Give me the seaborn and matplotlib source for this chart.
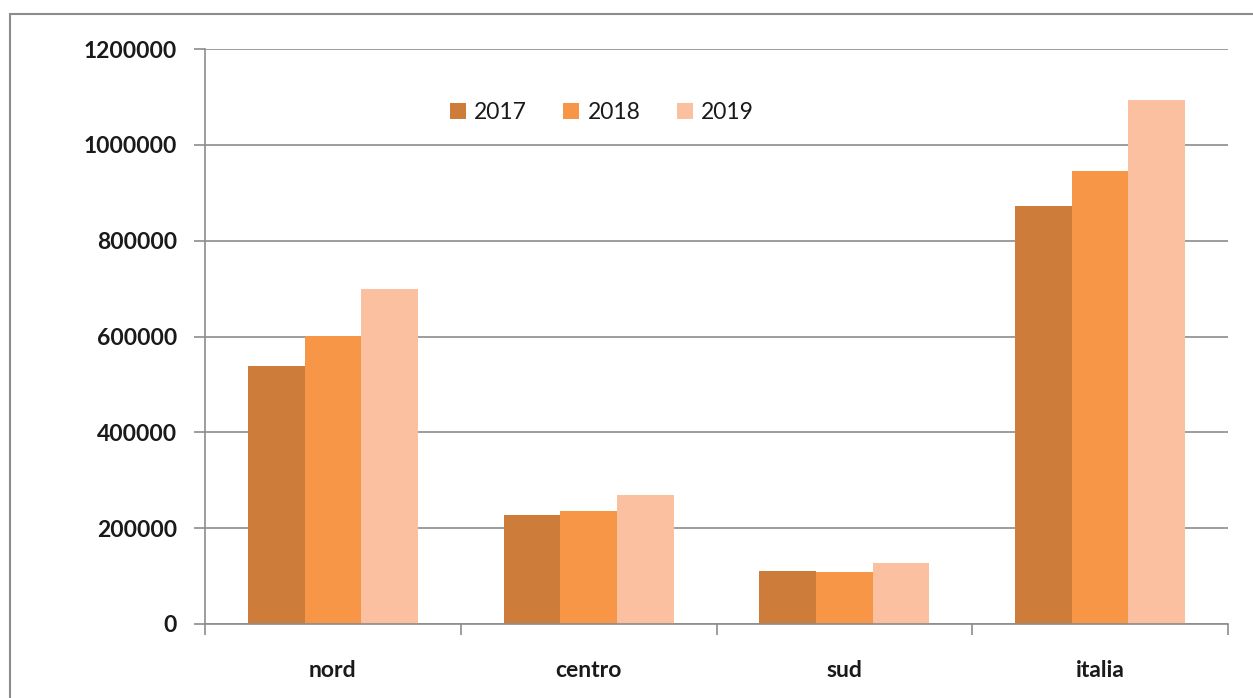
import pandas as pd
import matplotlib
matplotlib.use('Agg')
import matplotlib.pyplot as plt
import seaborn as sns
from matplotlib.patches import Rectangle
from matplotlib.ticker import StrMethodFormatter

# values
regions = ['nord', 'centro', 'sud', 'italia']
years = ['2017', '2018', '2019']
v2017 = [538000, 227000, 111000, 873000]
v2018 = [601000, 236000, 108000, 946000]
v2019 = [699000, 269000, 127000, 1094000]
colors = ['#CD7D39', '#F79646', '#FAC0A0']

df = pd.DataFrame({
    'region': regions * 3,
    'year': [y for y in years for _ in regions],
    'value': v2017 + v2018 + v2019,
})

sns.set_style('white')
plt.rcParams['font.family'] = ['Lato', 'DejaVu Sans']

fig = plt.figure(figsize=(12.53, 6.98), dpi=100)
ax = fig.add_axes([205/1253, 1 - 624/698, 1023/1253, 575/698])

sns.barplot(data=df, x='region', y='value', hue='year', palette=colors,
            width=0.665, gap=0, saturation=1, ax=ax, linewidth=0)

ax.set_ylim(0, 1200000)
ax.set_xlim(-0.5, 3.5)
ax.set_yticks(range(0, 1200001, 200000))
ax.yaxis.set_major_formatter(StrMethodFormatter('{x:.0f}'))
ax.yaxis.grid(True, color='#8c8c8c', linewidth=1.2)
ax.set_axisbelow(True)
ax.set_xlabel('')
ax.set_ylabel('')

for s in ['top', 'right']:
    ax.spines[s].set_visible(False)
for s in ['left', 'bottom']:
    ax.spines[s].set_color('#8c8c8c')
    ax.spines[s].set_linewidth(1.2)

ax.tick_params(axis='y', length=8, color='#8c8c8c', width=1.2, pad=12,
               labelsize=16.5, left=True)
ax.tick_params(axis='x', length=0, pad=26, labelsize=16.5)
ax.set_xticks([-0.5, 0.5, 1.5, 2.5, 3.5], minor=True)
ax.tick_params(axis='x', which='minor', length=8, color='#8c8c8c', width=1.2,
               bottom=True)
for lab in ax.get_xticklabels() + ax.get_yticklabels():
    lab.set_fontweight('bold')
    lab.set_color('#1a1a1a')

leg = ax.legend(loc='center', bbox_to_anchor=(0.388, 0.89), ncol=3, frameon=False,
                fontsize=16.5, handlelength=0.7, handleheight=0.7, handletextpad=0.35,
                columnspacing=1.6)
for t in leg.get_texts():
    t.set_color('#1a1a1a')

# outer frame of the chart
fig.patches.append(Rectangle((10/1253, -0.1), 1.2, 1 - 14/698 + 0.1,
                             transform=fig.transFigure, fill=False,
                             edgecolor='#8c8c8c', linewidth=1.5))

fig.savefig('out.png', dpi=100)
